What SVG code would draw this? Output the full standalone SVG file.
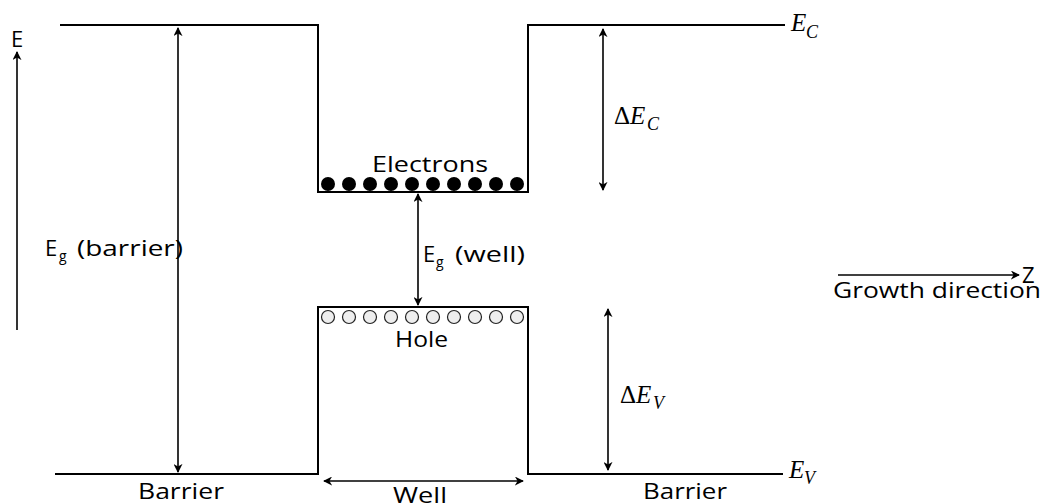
<svg xmlns="http://www.w3.org/2000/svg" width="1045" height="504" viewBox="0 0 1045 504">
<defs>
<marker id="ah" viewBox="0 0 10 10" refX="9" refY="5" markerWidth="9" markerHeight="9" markerUnits="userSpaceOnUse" orient="auto-start-reverse">
<path d="M0,0 L10,5 L0,10 L3,5 Z" fill="#000"/>
</marker>
</defs>
<style>
.band{fill:none;stroke:#000;stroke-width:2}
.arr{fill:none;stroke:#000;stroke-width:1.6}
.lbl{font-family:"Open Sans","Liberation Sans",sans-serif;font-size:22px;fill:#000}
.sub{font-family:"Open Sans","Liberation Sans",sans-serif;font-size:14px;fill:#000}
.math{font-family:"Liberation Serif","DejaVu Serif",serif;font-style:italic;font-size:25px;fill:#000}
.msub{font-family:"Liberation Serif","DejaVu Serif",serif;font-style:italic;font-size:18px;fill:#000}
.el{fill:#000}
.ho{fill:#eee;stroke:#222;stroke-width:1.2}
</style>
<rect width="1045" height="504" fill="#fff"/>
<g id="bands">
<path class="band" d="M60,25 H318 V192 H528 V25 H785"/>
<path class="band" d="M55,474 H318 V307 H528 V474 H783"/>
</g>
<g id="connectors">
<line class="arr" x1="17" y1="330" x2="17" y2="52" marker-end="url(#ah)"/>
<line class="arr" x1="178" y1="28" x2="178" y2="472" marker-start="url(#ah)" marker-end="url(#ah)"/>
<line class="arr" x1="418" y1="194" x2="418" y2="305" marker-start="url(#ah)" marker-end="url(#ah)"/>
<line class="arr" x1="603" y1="29" x2="603" y2="190" marker-start="url(#ah)" marker-end="url(#ah)"/>
<line class="arr" x1="608" y1="309" x2="608" y2="470" marker-start="url(#ah)" marker-end="url(#ah)"/>
<line class="arr" x1="324" y1="481" x2="523" y2="481" marker-start="url(#ah)" marker-end="url(#ah)"/>
<line class="arr" x1="838" y1="275" x2="1019" y2="275" marker-end="url(#ah)"/>
</g>
<g id="electrons">
<circle class="el" cx="328" cy="184" r="7"/>
<circle class="el" cx="349" cy="184" r="7"/>
<circle class="el" cx="370" cy="184" r="7"/>
<circle class="el" cx="391" cy="184" r="7"/>
<circle class="el" cx="412" cy="184" r="7"/>
<circle class="el" cx="433" cy="184" r="7"/>
<circle class="el" cx="454" cy="184" r="7"/>
<circle class="el" cx="475" cy="184" r="7"/>
<circle class="el" cx="496" cy="184" r="7"/>
<circle class="el" cx="517" cy="184" r="7"/>
<text class="lbl" x="372" y="172" textLength="116" lengthAdjust="spacingAndGlyphs">Electrons</text>
</g>
<g id="holes">
<circle class="ho" cx="328" cy="317" r="6.5"/>
<circle class="ho" cx="349" cy="317" r="6.5"/>
<circle class="ho" cx="370" cy="317" r="6.5"/>
<circle class="ho" cx="391" cy="317" r="6.5"/>
<circle class="ho" cx="412" cy="317" r="6.5"/>
<circle class="ho" cx="433" cy="317" r="6.5"/>
<circle class="ho" cx="454" cy="317" r="6.5"/>
<circle class="ho" cx="475" cy="317" r="6.5"/>
<circle class="ho" cx="496" cy="317" r="6.5"/>
<circle class="ho" cx="517" cy="317" r="6.5"/>
<text class="lbl" x="395" y="347" textLength="53" lengthAdjust="spacingAndGlyphs">Hole</text>
</g>
<g id="labels">
<text class="lbl" x="11" y="47">E</text>
<text class="lbl" x="45" y="256">E</text>
<text class="sub" x="59" y="261">g</text>
<text class="lbl" x="77" y="256" textLength="106" lengthAdjust="spacingAndGlyphs">(barrier)</text>
<text class="lbl" x="423" y="262">E</text>
<text class="sub" x="436" y="267">g</text>
<text class="lbl" x="455" y="262" textLength="70" lengthAdjust="spacingAndGlyphs">(well)</text>
<text class="math" x="791" y="31">E</text>
<text class="msub" x="806" y="38">C</text>
<text class="math" x="789" y="478">E</text>
<text class="msub" x="804" y="484">V</text>
<text class="math" x="614" y="124"><tspan font-style="normal">Δ</tspan>E</text>
<text class="msub" x="647" y="130">C</text>
<text class="math" x="620" y="403"><tspan font-style="normal">Δ</tspan>E</text>
<text class="msub" x="653" y="409">V</text>
<text class="lbl" x="1022" y="283">Z</text>
<text class="lbl" x="833" y="298" textLength="208" lengthAdjust="spacingAndGlyphs">Growth direction</text>
<text class="lbl" x="138" y="499" textLength="86" lengthAdjust="spacingAndGlyphs">Barrier</text>
<text class="lbl" x="393" y="503" textLength="54" lengthAdjust="spacingAndGlyphs">Well</text>
<text class="lbl" x="643" y="499" textLength="84" lengthAdjust="spacingAndGlyphs">Barrier</text>
</g>
</svg>
